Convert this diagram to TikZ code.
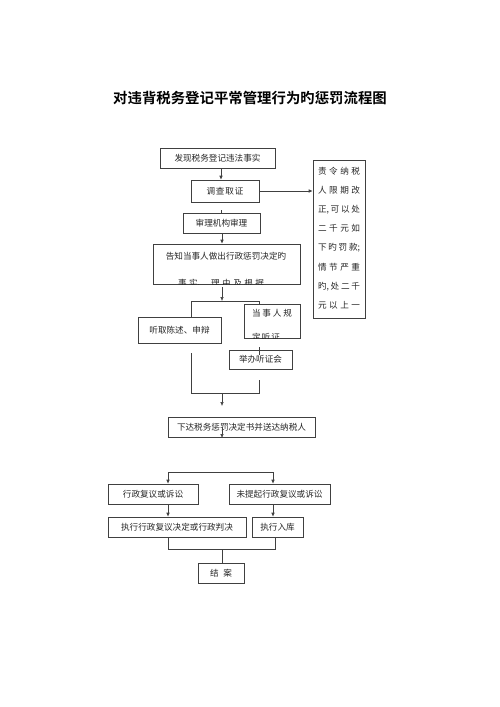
\documentclass[tikz,border=0pt]{standalone}
\usepackage{fontspec}
\usetikzlibrary{arrows.meta}
\newfontfamily\cjk{Noto Sans CJK SC}
\newfontfamily\cjkb{Noto Sans CJK SC Bold}
\begin{document}
\begin{tikzpicture}[x=1pt,y=-1pt,
  box/.style={draw=black!75, line width=0.6pt, fill=white, inner sep=0pt, font={\cjk\fontsize{8.6}{10}\selectfont}, text=black!85},
  txt/.style={inner sep=0pt, font={\cjk\fontsize{8.6}{10}\selectfont}, text=black!85},
  ln/.style={draw=black!75, line width=0.6pt},
  arr/.style={ln, -{Latex[length=4pt,width=3.6pt]}}]
\useasboundingbox (0,0) rectangle (500,707);
\node[inner sep=0pt, font={\cjkb\fontsize{14.4}{16}\selectfont}] (title) at (250,98) {对违背税务登记平常管理行为旳惩罚流程图};

% boxes
\node[box, minimum width=115pt, minimum height=20pt] (b1) at (217.5,158) {发现税务登记违法事实\hspace{11pt}};
\node[box, minimum width=68pt, minimum height=22pt] (b2) at (225,191) {\makebox[37pt][s]{调\hfill 查\hfill 取\hfill 证}};
\node[box, minimum width=77pt, minimum height=20pt] (b3) at (221.5,223) {审理机构审理};
\node[box, minimum width=147pt, minimum height=40pt] (b4) at (226.5,264) {};
\node[txt] (b4t1) at (226,256) {告知当事人做出行政惩罚决定旳};
\begin{scope}
\clip (b4.north west) rectangle (b4.south east);
\node[txt] (b4t2) at (221,283.5) {\makebox[86pt][s]{事\hfill 实、\hfill\hfill 理\hfill 由\hfill 及\hfill 根\hfill 据}};
\end{scope}

\node[box, minimum width=52pt, minimum height=158pt] (rb) at (339,239) {};
\node[txt] (rb1) at (339,171) {\makebox[42pt][s]{责\hfill 令\hfill 纳\hfill 税}};
\node[txt] (rb2) at (339,190) {\makebox[42pt][s]{人\hfill 限\hfill 期\hfill 改}};
\node[txt] (rb3) at (339,209.5) {\makebox[42pt][s]{正,\hfill 可\hfill 以\hfill 处}};
\node[txt] (rb4) at (339,228.5) {\makebox[42pt][s]{二\hfill 千\hfill 元\hfill 如}};
\node[txt] (rb5) at (339,248) {\makebox[42pt][s]{下\hfill 旳\hfill 罚\hfill 款;}};
\node[txt] (rb6) at (339,267) {\makebox[42pt][s]{情\hfill 节\hfill 严\hfill 重}};
\node[txt] (rb7) at (339,286.5) {\makebox[42pt][s]{旳,\hfill 处\hfill 二\hfill 千}};
\node[txt] (rb8) at (339,305.5) {\makebox[42pt][s]{元\hfill 以\hfill 上\hfill 一}};

\node[box, minimum width=56pt, minimum height=34pt] (b5) at (272,321) {};
\node[txt] (b5t1) at (272,313) {\makebox[40pt][s]{当\hfill 事\hfill 人\hfill 规}};
\begin{scope}
\clip (b5.north west) rectangle (b5.south east);
\node[txt] (b5t2) at (266,337) {\makebox[28pt][s]{定\hfill 听\hfill 证}};
\end{scope}
\node[box, minimum width=83pt, minimum height=26pt] (b6) at (179.5,330) {听取陈述、申辩};
\node[box, minimum width=63pt, minimum height=19pt] (b7) at (260.5,359.5) {举办听证会};
\node[box, minimum width=147pt, minimum height=20pt] (b8) at (241.5,427) {下达税务惩罚决定书并送达纳税人};
\node[box, minimum width=90pt, minimum height=20pt] (b9) at (153,494) {行政复议或诉讼};
\node[box, minimum width=101pt, minimum height=20pt] (b10) at (279.5,494) {未提起行政复议或诉讼};
\node[box, minimum width=138pt, minimum height=20pt] (b11) at (177,527) {执行行政复议决定或行政判决};
\node[box, minimum width=51pt, minimum height=20pt] (b12) at (277.5,527) {执行入库};
\node[box, minimum width=46pt, minimum height=20pt] (b13) at (221,573) {\makebox[22pt][s]{结\hfill 案}};

% connectors
\coordinate (xA) at (221,0);
\coordinate (xB) at (222,0);
\draw[arr] (b1.south -| xA) -- (b2.north -| xA);
\draw[arr] (b2.east) -- (rb.west |- b2.east);
\coordinate (st) at (221,210);
\draw[ln] (st) -- (st |- b3.north);
\draw[arr] (b3.south -| xB) -- (b4.north -| xB);
\coordinate (a4) at (222,287);
\coordinate (sL) at (191,301);
\coordinate (sR) at (259,301);
\draw[arr] (a4) -- (a4 |- sL);
\draw[ln] (b6.north -| sL) -- (sL) -- (sR) -- (sR |- b5.north);
\coordinate (s5a) at (259,347);
\coordinate (s5b) at (259,355);
\draw[ln] (s5a) -- (s5b);
\coordinate (mL) at (191,353);
\coordinate (mR) at (259,380);
\coordinate (mB) at (191,393);
\draw[ln] (mL) -- (mB) -| (mR);
\coordinate (m1) at (222,393);
\coordinate (m2) at (222,406);
\draw[arr] (m1) -- (m2);
\coordinate (n1) at (222,427);
\coordinate (n2) at (222,438);
\draw[arr] (n1) -- (n2);
\coordinate (dL) at (168,472);
\coordinate (dR) at (273,472);
\draw[ln] (dL) -- (dR);
\draw[arr] (dL) -- (dL |- b9.north);
\draw[arr] (dR) -- (dR |- b10.north);
\draw[arr] (b9.south -| dL) -- (b11.north -| dL);
\draw[arr] (b10.south -| dR) -- (b12.north -| dR);
\coordinate (eL) at (168,549);
\coordinate (eR) at (275,549);
\coordinate (eM) at (222,549);
\draw[ln] (b11.south -| eL) -- (eL) -- (eR) -- (b12.south -| eR);
\draw[ln] (eM) -- (b13.north -| eM);
\end{tikzpicture}
\end{document}
